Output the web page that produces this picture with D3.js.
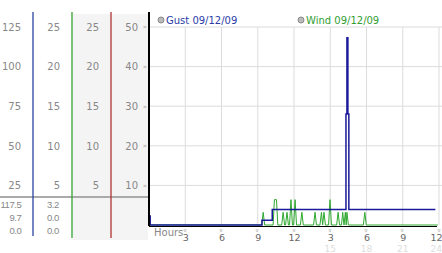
<!DOCTYPE html>
<html>
<head>
<meta charset="utf-8">
<script src="https://cdn.jsdelivr.net/npm/d3@7"></script>
<style>
  body { margin: 0; background: #fff; }
  svg { display: block; font-family: "DejaVu Sans", sans-serif; }
</style>
</head>
<body>
<svg id="chart"></svg>
<script>
const width = 442;
const height = 253;

// left scale columns
const col1Ticks = [125, 100, 75, 50, 25];
const col2Ticks = [25, 20, 15, 10, 5];
const col3Ticks = [25, 20, 15, 10, 5];
const plotTicks = [50, 40, 30, 20, 10];

// summary rows under the columns (max / avg / min)
const col1Summary = ["117.5", "9.7", "0.0"];
const col2Summary = ["3.2", "0.0", "0.0"];

// hours axis
const hourTicks = [3, 6, 9, 12, 15, 18, 21, 24];

// series (hours, value)
const gustHours = [0, 0.1, 9.35, 10.2, 16.3, 16.38, 16.46, 16.54, 23.7];
const gustValues = [2.3, 0, 1.2, 3.9, 28, 47.3, 28, 3.9, 3.9];

const windHours = [0, 9.33, 9.45, 9.57, 10.27, 10.38, 10.55, 10.66, 10.98, 11.1, 11.22,
  11.3, 11.42, 11.54, 11.63, 11.75, 11.87, 11.97, 12.09, 12.21, 12.53, 12.65, 12.77,
  13.62, 13.74, 13.86, 14.15, 14.27, 14.37, 14.48, 14.6, 14.86, 14.98, 15.1,
  15.53, 15.65, 15.77, 15.93, 16.03, 16.14, 16.25, 16.32, 16.38, 16.5,
  17.74, 17.86, 17.98, 23.9];
const windValues = [0, 0, 3.2, 0, 0, 6.4, 6.4, 0, 0, 3.2, 0,
  0, 3.2, 0, 0, 6.4, 0, 0, 6.4, 0, 0, 3.2, 0,
  0, 3.2, 0, 0, 3.2, 0, 3.2, 0, 0, 6.4, 0,
  0, 3.2, 0, 0, 3.2, 0, 3.2, 0, 3.2, 0,
  0, 3.2, 0, 0];

const plotLeft = 149;
const plotRight = 439;
const y0 = 225;
const yTop = 27;

const svg = d3.select("#chart")
  .attr("width", width)
  .attr("height", height)
  .attr("viewBox", [0, 0, width, height]);

const x = d3.scaleLinear().domain([0, 24]).range([plotLeft, plotRight]);
const y = d3.scaleLinear().domain([0, 50]).range([y0, yTop]);
const y1 = d3.scaleLinear().domain([0, 125]).range([y0, yTop]);
const y2 = d3.scaleLinear().domain([0, 25]).range([y0, yTop]);

// grey column backgrounds
svg.append("rect").attr("x", 73).attr("y", 14).attr("width", 75).attr("height", 226)
  .attr("fill", "#f4f4f4");

// plot grid
svg.append("g")
  .selectAll("line")
  .data(plotTicks)
  .join("line")
  .attr("x1", plotLeft).attr("x2", width)
  .attr("y1", d => y(d)).attr("y2", d => y(d))
  .attr("stroke", "#dcdcdc");

svg.append("g")
  .selectAll("line")
  .data(hourTicks)
  .join("line")
  .attr("x1", d => x(d)).attr("x2", d => x(d))
  .attr("y1", yTop).attr("y2", y0)
  .attr("stroke", "#dcdcdc");

// left label columns
const colAxis = (scale, ticks, xPos) => g => g
  .attr("transform", `translate(${xPos},0)`)
  .call(d3.axisLeft(scale).tickValues(ticks).tickSize(0).tickPadding(0))
  .call(g => g.select(".domain").remove())
  .call(g => g.selectAll("text")
    .attr("fill", "#888")
    .attr("font-size", 10)
    .attr("font-family", "DejaVu Sans, sans-serif"));

svg.append("g").call(colAxis(y1, col1Ticks, 21));
svg.append("g").call(colAxis(y2, col2Ticks, 60));
svg.append("g").call(colAxis(y2, col3Ticks, 99));
svg.append("g").call(colAxis(y, plotTicks, 138));

// little markers on the value axis
svg.append("g")
  .selectAll("text")
  .data(plotTicks)
  .join("text")
  .attr("x", 145)
  .attr("y", d => y(d))
  .attr("dy", "0.35em")
  .attr("text-anchor", "middle")
  .attr("font-size", 7)
  .attr("fill", "#aaa")
  .text("\u00bb");

// divider above summary rows
svg.append("line")
  .attr("x1", 0).attr("x2", 148)
  .attr("y1", 197).attr("y2", 197)
  .attr("stroke", "#aaa").attr("stroke-width", 2);

const summaryRows = [205, 218, 231];
[[col1Summary, 21.5], [col2Summary, 59]].forEach(([vals, xr]) => {
  svg.append("g")
    .selectAll("text")
    .data(vals)
    .join("text")
    .attr("x", xr)
    .attr("y", (d, i) => summaryRows[i])
    .attr("dy", "0.35em")
    .attr("text-anchor", "end")
    .attr("font-size", 9.5)
    .attr("font-family", "Liberation Sans, Arial, sans-serif")
    .attr("letter-spacing", -0.4)
    .attr("fill", "#888")
    .text(d => d);
});

// column separators
const seps = [[33, "#2a44a0", 236], [72, "#33a033", 238], [111, "#b03333", 238]];
svg.append("g")
  .selectAll("line")
  .data(seps)
  .join("line")
  .attr("x1", d => d[0]).attr("x2", d => d[0])
  .attr("y1", 12).attr("y2", d => d[2])
  .attr("stroke", d => d[1])
  .attr("stroke-width", 1.3);

// series
const wind = windHours.map((h, i) => [h, windValues[i]]);
const gust = gustHours.map((h, i) => [h, gustValues[i]]);

svg.append("path")
  .datum(wind)
  .attr("fill", "none")
  .attr("stroke", "#2ea82e")
  .attr("stroke-width", 1)
  .attr("d", d3.line().x(d => x(d[0])).y(d => y(d[1])));

svg.append("path")
  .datum(gust)
  .attr("fill", "none")
  .attr("stroke", "#1a1a9a")
  .attr("stroke-width", 1.5)
  .attr("d", d3.line().curve(d3.curveStepAfter).x(d => x(d[0])).y(d => y(d[1])));

// axes lines
svg.append("line")
  .attr("x1", plotLeft).attr("x2", plotLeft)
  .attr("y1", 12).attr("y2", 226)
  .attr("stroke", "#000").attr("stroke-width", 2);
svg.append("line")
  .attr("x1", plotLeft).attr("x2", 437)
  .attr("y1", 226.5).attr("y2", 226.5)
  .attr("stroke", "#000").attr("stroke-width", 1);

// hours axis
const lastTick = hourTicks[hourTicks.length - 1];
const xAxis = svg.append("g")
  .attr("transform", `translate(0,241)`)
  .call(d3.axisBottom(x).tickValues(hourTicks).tickSize(0).tickPadding(0)
    .tickFormat(d => d > 12 ? d - 12 : d))
  .call(g => g.select(".domain").remove());
xAxis.selectAll("text")
  .attr("y", 0).attr("dy", 0)
  .attr("fill", "#666")
  .attr("font-size", 9.5)
  .attr("font-family", "DejaVu Sans, sans-serif")
  .attr("text-anchor", d => d === lastTick ? "end" : "middle")
  .attr("x", d => d === lastTick ? width - x(d) : 0);

svg.append("g")
  .selectAll("text")
  .data(hourTicks.filter(d => d > 12))
  .join("text")
  .attr("x", d => d === lastTick ? width : x(d))
  .attr("y", 252)
  .attr("text-anchor", d => d === lastTick ? "end" : "middle")
  .attr("font-size", 9)
  .attr("fill", "#ddd")
  .text(d => d);

svg.append("g")
  .selectAll("text")
  .data(hourTicks)
  .join("text")
  .attr("transform", d => `translate(${x(d)},230.5) rotate(90)`)
  .attr("dy", "0.35em")
  .attr("text-anchor", "middle")
  .attr("font-size", 7)
  .attr("fill", "#aaa")
  .text("\u00bb");

svg.append("text")
  .attr("x", 154).attr("y", 236)
  .attr("font-size", 10)
  .attr("fill", "#888")
  .text("Hours");

// legend
const legend = [["Gust 09/12/09", "#2a3ca8", 161], ["Wind 09/12/09", "#33a033", 301]];
const lg = svg.append("g")
  .selectAll("g")
  .data(legend)
  .join("g")
  .attr("transform", d => `translate(${d[2]},20)`);
lg.append("circle").attr("r", 3).attr("fill", "#bbb").attr("stroke", "#888");
lg.append("text")
  .attr("x", 5).attr("dy", "0.35em")
  .attr("font-size", 10)
  .attr("fill", d => d[1])
  .text(d => d[0]);
</script>
</body>
</html>
